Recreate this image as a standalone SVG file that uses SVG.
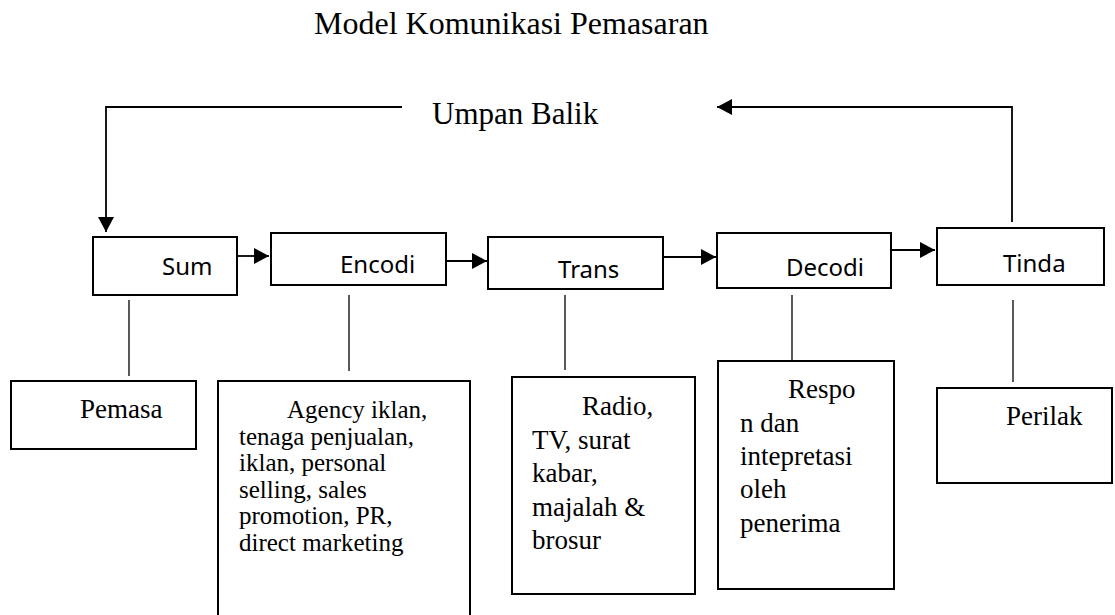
<svg xmlns="http://www.w3.org/2000/svg" width="1115" height="615" viewBox="0 0 1115 615">
  <style>
    .box { fill: #ffffff; stroke: #000000; stroke-width: 2; }
    .link { fill: none; stroke: #000000; stroke-width: 1.8; }
    .stem { fill: none; stroke: #000000; stroke-width: 1.3; }
    .serif { font-family: "Liberation Serif", "Times New Roman", serif; fill: #000000; }
    .sans { font-family: "Noto Sans", "Open Sans", sans-serif; font-size: 24px; fill: #000000; }
    .title { font-size: 32px; }
    .label { font-size: 31px; }
    .body { font-size: 27px; }
    .dense { font-size: 25px; }
  </style>
  <defs>
    <marker id="head" markerUnits="userSpaceOnUse" markerWidth="16" markerHeight="16" refX="15" refY="8" orient="auto">
      <path d="M0,0 L15,8 L0,16 Z" fill="#000000"/>
    </marker>
  </defs>

  <rect width="1115" height="615" fill="#ffffff"/>

  <text class="serif title" x="314" y="34">Model Komunikasi Pemasaran</text>
  <text class="serif label" x="432" y="124">Umpan Balik</text>

  <!-- flow and feedback connectors -->
  <g id="connectors">
    <path class="link" d="M1012,222 V107 H717" marker-end="url(#head)"/>
    <path class="link" d="M402,107 H106 V232" marker-end="url(#head)"/>
    <path class="link" d="M237,256 H269" marker-end="url(#head)"/>
    <path class="link" d="M446,261 H487" marker-end="url(#head)"/>
    <path class="link" d="M663,257 H716" marker-end="url(#head)"/>
    <path class="link" d="M891,250 H935" marker-end="url(#head)"/>
    <line class="stem" x1="129" y1="300" x2="129" y2="376"/>
    <line class="stem" x1="349" y1="295" x2="349" y2="371"/>
    <line class="stem" x1="565" y1="295" x2="565" y2="370"/>
    <line class="stem" x1="792" y1="295" x2="792" y2="360"/>
    <line class="stem" x1="1013" y1="300" x2="1013" y2="382"/>
  </g>

  <!-- process row -->
  <g id="sumber">
    <rect class="box" x="93" y="237" width="144" height="58"/>
    <text class="sans" x="162" y="275">Sum</text>
  </g>
  <g id="encoding">
    <rect class="box" x="271" y="233" width="175" height="52"/>
    <text class="sans" x="340" y="273">Encodi</text>
  </g>
  <g id="transmisi">
    <rect class="box" x="488" y="237" width="175" height="52"/>
    <text class="sans" x="558" y="278">Trans</text>
  </g>
  <g id="decoding">
    <rect class="box" x="717" y="233" width="174" height="55"/>
    <text class="sans" x="786" y="276">Decodi</text>
  </g>
  <g id="tindakan">
    <rect class="box" x="937" y="228" width="167" height="57"/>
    <text class="sans" x="1003" y="272">Tinda</text>
  </g>

  <!-- detail row -->
  <g id="pemasar">
    <rect class="box" x="11" y="381" width="185" height="68"/>
    <text class="serif body" x="80" y="418">Pemasa</text>
  </g>
  <g id="agency">
    <path class="box" d="M218,630 V381 H470 V630"/>
    <text class="serif dense">
      <tspan x="287" y="418">Agency iklan,</tspan>
      <tspan x="239" y="444.5">tenaga penjualan,</tspan>
      <tspan x="239" y="471">iklan, personal</tspan>
      <tspan x="239" y="497.5">selling, sales</tspan>
      <tspan x="239" y="524">promotion,  PR,</tspan>
      <tspan x="239" y="550.5">direct marketing</tspan>
    </text>
  </g>
  <g id="media">
    <rect class="box" x="512" y="377" width="183" height="217"/>
    <text class="serif body">
      <tspan x="582" y="415">Radio,</tspan>
      <tspan x="532" y="448.5">TV, surat</tspan>
      <tspan x="532" y="482">kabar,</tspan>
      <tspan x="532" y="515.5">majalah  &amp;</tspan>
      <tspan x="532" y="549">brosur</tspan>
    </text>
  </g>
  <g id="respon">
    <rect class="box" x="718" y="361" width="176" height="228"/>
    <text class="serif body">
      <tspan x="788" y="398">Respo</tspan>
      <tspan x="740" y="432">n dan</tspan>
      <tspan x="740" y="465">intepretasi</tspan>
      <tspan x="740" y="498">oleh</tspan>
      <tspan x="740" y="532">penerima</tspan>
    </text>
  </g>
  <g id="perilaku">
    <rect class="box" x="937" y="388" width="175" height="95"/>
    <text class="serif body" x="1006" y="425">Perilak</text>
  </g>
</svg>
